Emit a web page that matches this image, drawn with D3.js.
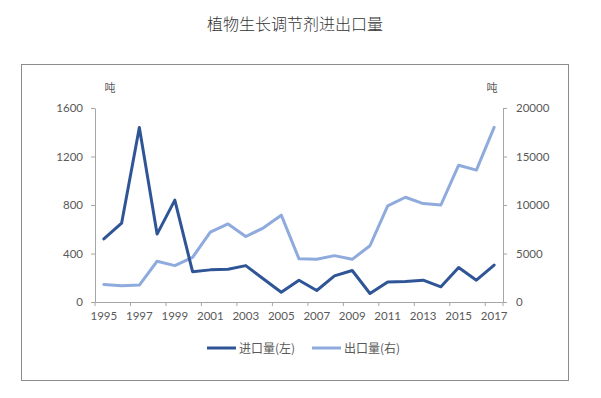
<!DOCTYPE html>
<html>
<head>
<meta charset="utf-8">
<script src="https://cdn.jsdelivr.net/npm/d3@7"></script>
<style>
  body { margin: 0; background: #fff; }
  text { font-family: "Lato", "Noto Sans CJK SC", sans-serif; }
</style>
</head>
<body>
<svg id="chart" width="601" height="398"></svg>
<script>
(function(){
	'use strict';

	// data
	var years = d3.range(1995, 2018);
	var importVals = [520, 650, 1440, 560, 840, 250, 265, 270, 300, 190, 80, 180, 95, 215, 260, 70, 165, 170, 180, 125, 285, 180, 305];
	var exportVals = [1800, 1680, 1750, 4200, 3750, 4600, 7200, 8050, 6750, 7650, 8950, 4450, 4400, 4780, 4400, 5800, 9900, 10800, 10150, 10000, 14100, 13600, 18000];
	var leftTicks = [0, 400, 800, 1200, 1600];
	var rightTicks = [0, 5000, 10000, 15000, 20000];
	var seriesNames = ['进口量(左)', '出口量(右)'];
	var colors = ['#2f5597', '#8faadc'];

	var svg = d3.select('#chart');
	var textColor = '#595959';
	var axisColor = '#a6a6a6';

	var plot = { left: 95, right: 503, top: 108, bottom: 302 };

	// outer frame
	svg.append('rect')
		.attr('x', 21.5).attr('y', 64.5)
		.attr('width', 547).attr('height', 316)
		.attr('fill', 'none').attr('stroke', '#8c8c8c');

	svg.append('text')
		.attr('x', 295).attr('y', 30)
		.attr('text-anchor', 'middle')
		.style('font-family', '"Noto Sans CJK SC", sans-serif')
		.style('font-size', '16px')
		.style('font-weight', '300')
		.attr('fill', '#333')
		.text('植物生长调节剂进出口量');

	var x = d3.scaleBand().domain(years).range([plot.left, plot.right]).padding(0);
	var yL = d3.scaleLinear().domain([0, 1600]).range([plot.bottom, plot.top]);
	var yR = d3.scaleLinear().domain([0, 20000]).range([plot.bottom, plot.top]);

	function styleAxis(g){
		g.select('.domain').attr('stroke', axisColor);
		g.selectAll('.tick line').attr('stroke', axisColor);
		g.selectAll('.tick text').attr('fill', textColor).style('font-size', '11.5px');
	}

	svg.append('g')
		.attr('transform', 'translate(' + plot.left + ',0)')
		.call(d3.axisLeft(yL).tickValues(leftTicks).tickFormat(d3.format('d'))
			.tickSize(4).tickPadding(8).tickSizeOuter(0))
		.call(styleAxis);

	svg.append('g')
		.attr('transform', 'translate(' + plot.right + ',0)')
		.call(d3.axisRight(yR).tickValues(rightTicks).tickFormat(d3.format('d'))
			.tickSize(4).tickPadding(9).tickSizeOuter(0))
		.call(styleAxis);

	// x axis: labels at every second category, ticks on category borders
	var xg = svg.append('g')
		.attr('transform', 'translate(0,' + plot.bottom + ')')
		.call(d3.axisBottom(x).tickValues(years.filter(function(d, i){ return i % 2 === 0; }))
			.tickSize(0).tickPadding(10).tickSizeOuter(0))
		.call(styleAxis);
	xg.select('.domain').attr('d', 'M' + plot.left + ',0.5H' + plot.right);

	var borders = years.filter(function(d, i){ return i % 2 === 0; }).map(function(d){ return x(d); });
	borders.push(plot.right);
	xg.selectAll('line.border')
		.data(borders)
		.enter()
		.append('line')
			.attr('class', 'border')
			.attr('x1', function(d){ return d; })
			.attr('x2', function(d){ return d; })
			.attr('y1', 0).attr('y2', 4)
			.attr('stroke', axisColor);

	// unit labels
	svg.append('text').attr('x', 110).attr('y', 92).attr('text-anchor', 'middle')
		.style('font-size', '11px').attr('fill', textColor).text('吨');
	svg.append('text').attr('x', 492).attr('y', 92).attr('text-anchor', 'middle')
		.style('font-size', '11px').attr('fill', textColor).text('吨');

	var cx = function(i){ return x(years[i]) + x.bandwidth() / 2; };

	var lineL = d3.line().x(function(d, i){ return cx(i); }).y(function(d){ return yL(d); });
	var lineR = d3.line().x(function(d, i){ return cx(i); }).y(function(d){ return yR(d); });

	svg.append('path')
		.datum(exportVals)
		.attr('d', lineR)
		.attr('fill', 'none').attr('stroke', colors[1])
		.attr('stroke-width', 3).attr('stroke-linejoin', 'round').attr('stroke-linecap', 'round');

	svg.append('path')
		.datum(importVals)
		.attr('d', lineL)
		.attr('fill', 'none').attr('stroke', colors[0])
		.attr('stroke-width', 3).attr('stroke-linejoin', 'round').attr('stroke-linecap', 'round');

	// legend
	var legendX = [207, 312];
	var legend = svg.selectAll('g.legend')
		.data(seriesNames)
		.enter()
		.append('g')
			.attr('class', 'legend')
			.attr('transform', function(d, i){ return 'translate(' + legendX[i] + ',348)'; });
	legend.append('line')
		.attr('x1', 0).attr('x2', 29).attr('y1', 0).attr('y2', 0)
		.attr('stroke', function(d, i){ return colors[i]; })
		.attr('stroke-width', 3);
	legend.append('text')
		.attr('x', 32).attr('y', 4.5)
		.style('font-family', '"Noto Sans CJK SC", sans-serif')
		.style('font-size', '12px')
		.attr('fill', textColor)
		.text(function(d){ return d; });

})();
</script>
</body>
</html>
